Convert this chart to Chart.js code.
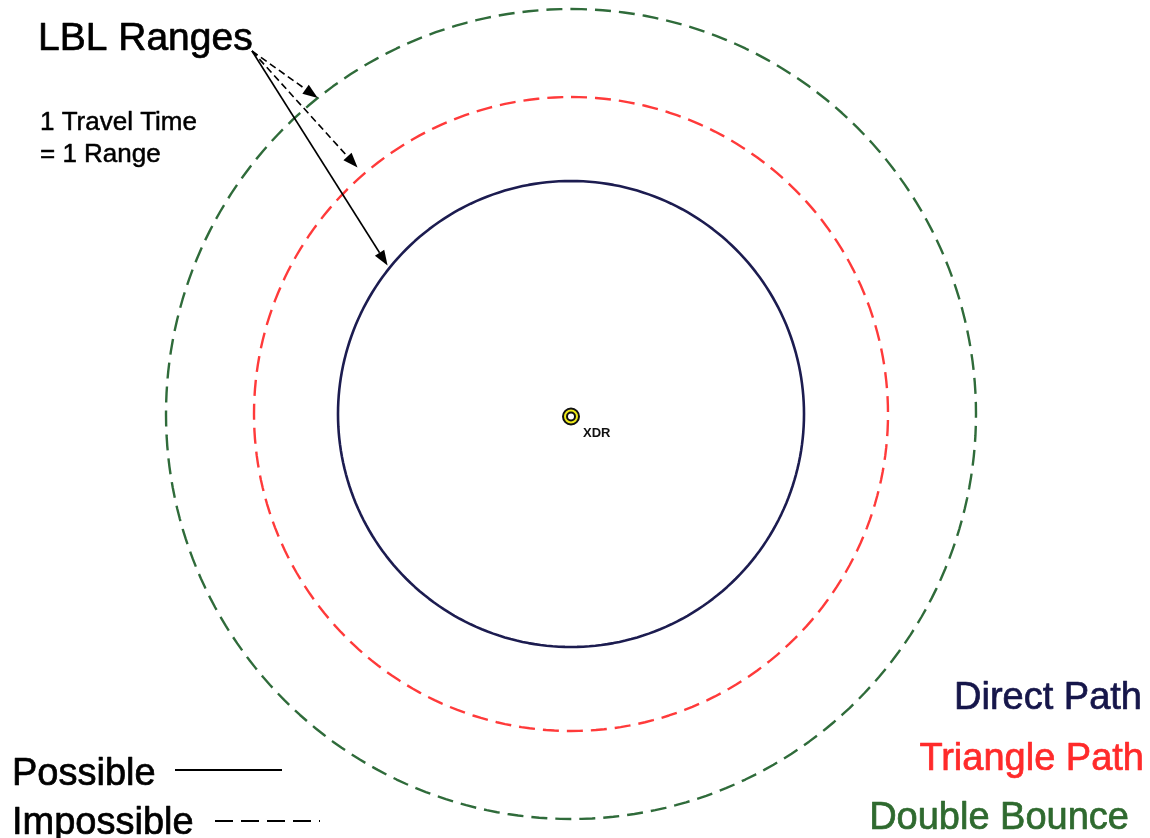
<!DOCTYPE html>
<html><head><meta charset="utf-8">
<script src="https://cdn.jsdelivr.net/npm/chart.js@4.4.0/dist/chart.umd.min.js"></script>
<style>html,body{margin:0;padding:0;background:#fff;overflow:hidden}canvas{display:block}</style>
</head><body>
<canvas id="c" width="1150" height="838"></canvas>
<script>
// ---- data ----
const pathNames = ['Direct Path', 'Triangle Path', 'Double Bounce'];
const rangeValues = [233, 317, 405];          // range of each path (chart units)
const pathPossible = [true, false, false];    // possible = solid, impossible = dashed
const pathColors = ['#1c1c50', '#ff3a3a', '#2f6b3a'];
const labelColors = ['#16164a', '#ff2a2a', '#2f6a2f'];
const bearingCount = 240;                     // bearings around the transducer
const bearingLabels = Array.from({length: bearingCount}, () => '');
// arrows from "LBL Ranges" to each circle: path index, bearing (deg ccw from up), offset
const arrowPaths = [2, 1, 0];
const arrowBearings = [38.7, 40.9, 51.0];
const arrowOffsets = [0, 9, 3];

const datasets = pathNames.map((name, i) => ({
  label: name,
  data: bearingLabels.map(() => rangeValues[i]),
  borderColor: pathColors[i],
  borderWidth: pathPossible[i] ? 2.6 : 2.4,
  borderDash: pathPossible[i] ? [] : [16, 8],
  pointRadius: 0,
  pointHoverRadius: 0,
  fill: false,
  tension: 0
}));

function heavyText(ctx, t, x, y, w) {
  ctx.lineWidth = w;
  ctx.strokeStyle = ctx.fillStyle;
  ctx.fillText(t, x, y);
  ctx.strokeText(t, x, y);
}

const overlay = {
  id: 'overlay',
  afterDatasetsDraw(chart) {
    const ctx = chart.ctx, s = chart.scales.r;
    const cx = s.xCenter, cy = s.yCenter;
    ctx.save();
    ctx.lineJoin = 'round';
    // arrows
    const ox = 252, oy = 51;
    arrowPaths.forEach((p, k) => {
      const d = s.getDistanceFromCenterForValue(rangeValues[p]) + arrowOffsets[k];
      const a = arrowBearings[k] * Math.PI / 180;
      const tx = cx - d * Math.sin(a), ty = cy - d * Math.cos(a);
      const ang = Math.atan2(ty - oy, tx - ox);
      const hl = 15, hw = 5.5;
      const bx = tx - hl * Math.cos(ang), by = ty - hl * Math.sin(ang);
      ctx.strokeStyle = '#000'; ctx.lineWidth = 1.6;
      ctx.setLineDash(pathPossible[p] ? [] : [7, 4]);
      ctx.beginPath(); ctx.moveTo(ox, oy); ctx.lineTo(bx, by); ctx.stroke();
      ctx.setLineDash([]);
      ctx.fillStyle = '#000';
      ctx.beginPath();
      ctx.moveTo(tx, ty);
      ctx.lineTo(bx + hw * Math.sin(ang), by - hw * Math.cos(ang));
      ctx.lineTo(bx - hw * Math.sin(ang), by + hw * Math.cos(ang));
      ctx.closePath(); ctx.fill();
    });
    // transducer marker
    const my = cy + 2.5;
    ctx.lineWidth = 2; ctx.strokeStyle = '#111';
    ctx.fillStyle = '#eeea1a';
    ctx.beginPath(); ctx.arc(cx, my, 8, 0, Math.PI * 2); ctx.fill(); ctx.stroke();
    ctx.fillStyle = '#fff';
    ctx.beginPath(); ctx.arc(cx, my, 4, 0, Math.PI * 2); ctx.fill(); ctx.stroke();
    ctx.fillStyle = '#111';
    ctx.font = 'bold 13px "Liberation Sans", Arial, sans-serif';
    ctx.textAlign = 'left'; ctx.textBaseline = 'alphabetic';
    ctx.fillText('XDR', cx + 12, cy + 23);
    // titles
    ctx.fillStyle = '#000';
    ctx.font = '39px "Liberation Sans", Arial, sans-serif';
    heavyText(ctx, 'LBL Ranges', 38, 50, 0.7);
    ctx.font = '26px "Liberation Sans", Arial, sans-serif';
    heavyText(ctx, '1 Travel Time', 40, 130, 0.5);
    heavyText(ctx, '= 1 Range', 40, 162, 0.5);
    // line style key
    ctx.font = '38px "Liberation Sans", Arial, sans-serif';
    heavyText(ctx, 'Possible', 12, 785, 0.7);
    heavyText(ctx, 'Impossible', 12, 834, 0.7);
    ctx.lineWidth = 2; ctx.strokeStyle = '#000';
    ctx.beginPath(); ctx.moveTo(175, 770); ctx.lineTo(282, 770); ctx.stroke();
    ctx.setLineDash([18, 8]);
    ctx.beginPath(); ctx.moveTo(215, 821); ctx.lineTo(320, 821); ctx.stroke();
    ctx.setLineDash([]);
    // path key
    ctx.textAlign = 'right';
    const keyX = [1142, 1144, 1129], keyY = [709, 770, 829];
    pathNames.forEach((n, i) => {
      ctx.fillStyle = labelColors[i];
      heavyText(ctx, n, keyX[i], keyY[i], 0.7);
    });
    ctx.restore();
  }
};

new Chart(document.getElementById('c'), {
  type: 'radar',
  data: { labels: bearingLabels, datasets },
  options: {
    responsive: false,
    animation: false,
    layout: { padding: { left: 0, right: 8, top: 0, bottom: 10 } },
    plugins: { legend: { display: false }, tooltip: { enabled: false } },
    elements: { line: { borderJoinStyle: 'round' } },
    scales: {
      r: {
        min: 0, max: 414,
        grid: { display: false },
        angleLines: { display: false },
        ticks: { display: false },
        pointLabels: { display: false }
      }
    }
  },
  plugins: [overlay]
});
</script>
</body></html>
